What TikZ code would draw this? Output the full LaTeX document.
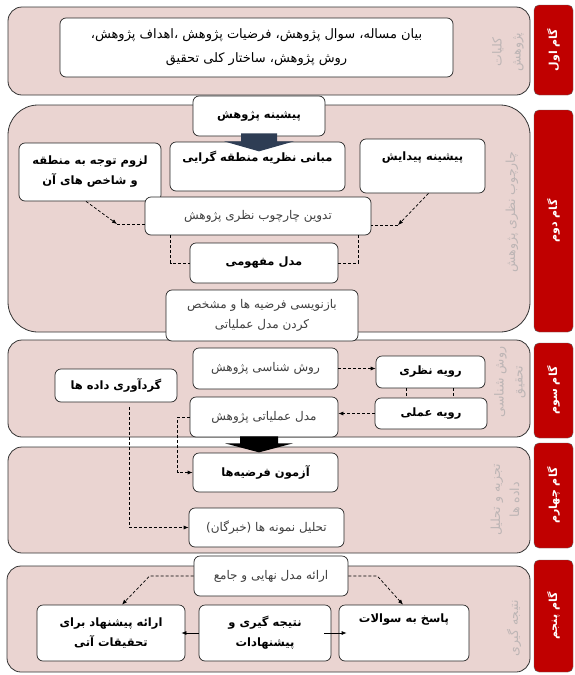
\documentclass[tikz,border=0pt]{standalone}
\usepackage{fontspec}
\newfontfamily\fa[Script=Arabic]{DejaVu Sans}
\TeXXeTstate=1
\usetikzlibrary{arrows.meta}

\definecolor{secpink}{HTML}{EAD4D1}
\definecolor{stepred}{HTML}{C00000}
\definecolor{arrownavy}{HTML}{2E3D54}
\definecolor{labelgray}{HTML}{BDB5B5}
\definecolor{textgray}{HTML}{404040}

\newcommand{\rtltext}[1]{\beginR #1\endR}

\tikzset{
  secbox/.style={draw=black!80, fill=secpink, rounded corners=14pt, line width=0.8pt},
  stepbox/.style={draw=black!60, fill=stepred, rounded corners=5pt, rotate=90,
    text=white, font=\fa\bfseries\fontsize{11}{13}\selectfont},
  seclabel/.style={rotate=90, align=center, text=labelgray,
    font=\fa\fontsize{12.5}{19}\selectfont},
  whitebox/.style={draw=black!85, fill=white, rounded corners=6pt, line width=0.7pt,
    inner sep=2pt, align=center, minimum width=#1},
  boldbox/.style={whitebox=#1, font=\fa\bfseries\fontsize{11.5}{20}\selectfont},
  plainbox/.style={whitebox=#1, text=textgray, font=\fa\fontsize{12}{20}\selectfont},
  toptext/.style={text depth=#1},
  dashline/.style={line width=0.7pt, dash pattern=on 3pt off 2pt},
  dasharrow/.style={dashline, -{Latex[length=5pt,width=4pt]}},
  solidarrow/.style={line width=0.7pt, -{Latex[length=5pt,width=4pt]}},
}

\begin{document}
\begin{tikzpicture}[x=1pt,y=-1pt]
  \useasboundingbox (0,0) rectangle (574,675);

  % the five steps
  \draw[secbox] (8,7) rectangle (530,95);
  \draw[secbox, rounded corners=30pt] (8,105) rectangle (530,332);
  \draw[secbox] (8,340) rectangle (530,437);
  \draw[secbox] (8,447) rectangle (530,553);
  \draw[secbox] (7,566) rectangle (530,672);

  \node[stepbox, minimum width=90, minimum height=39] (step1) at (553.5,50) {\rtltext{گام اول}};
  \node[stepbox, minimum width=222, minimum height=39] (step2) at (553.5,221) {\rtltext{گام دوم}};
  \node[stepbox, minimum width=95, minimum height=39] (step3) at (553.5,390.5) {\rtltext{گام سوم}};
  \node[stepbox, minimum width=105, minimum height=39] (step4) at (553.5,495.5) {\rtltext{گام چهارم}};
  \node[stepbox, minimum width=112, minimum height=39] (step5) at (553.5,616) {\rtltext{گام پنجم}};

  \node[seclabel] (lab1) at (508,52) {\rtltext{کلیات}\\\rtltext{پژوهش}};
  \node[seclabel] (lab2) at (512,212) {\rtltext{چارچوب نظری پژوهش}};
  \node[seclabel] (lab3) at (510,382) {\rtltext{روش شناسی}\\\rtltext{تحقیق}};
  \node[seclabel] (lab4) at (505,500) {\rtltext{تجزیه و تحلیل}\\\rtltext{داده ها}};
  \node[seclabel] (lab5) at (514,628) {\rtltext{نتیجه گیری}};

  % step 1
  \node[plainbox=393, minimum height=59, text=black, font=\fa\fontsize{13}{24}\selectfont]
    (kolliat) at (256.5,47.5)
    {\rtltext{بیان مساله، سوال پژوهش، فرضیات پژوهش ،اهداف پژوهش،}\\\rtltext{روش پژوهش، ساختار کلی تحقیق}};

  % step 2
  \node[boldbox=132, minimum height=40] (pishineh) at (259,116) {\rtltext{پیشینه پژوهش}};
  \node[boldbox=175, minimum height=49, toptext=20pt] (mabani) at (257.5,166.5) {\rtltext{مبانی نظریه منطقه گرایی}};
  \node[boldbox=142, minimum height=58] (lozum) at (90,172) {\rtltext{لزوم توجه به منطقه}\\\rtltext{و شاخص های آن}};
  \node[boldbox=125, minimum height=54, toptext=19pt] (paydayesh) at (422.5,166) {\rtltext{پیشینه پیدایش}};
  \node[plainbox=226, minimum height=38] (tadvin) at (258,216) {\rtltext{تدوین چارچوب نظری پژوهش}};
  \node[boldbox=148, minimum height=40] (mafhumi) at (264,263) {\rtltext{مدل مفهومی}};
  \node[plainbox=192, minimum height=51] (baznevisi) at (262,315.5) {\rtltext{بازنویسی فرضیه ها و مشخص}\\\rtltext{کردن مدل عملیاتی}};

  \fill[arrownavy] ([xshift=-18pt,yshift=3pt]pishineh.south) -- ++(36,0) -- ++(0,8) -- ++(17,0)
    -- ++(-35,10) -- ++(-35,-10) -- ++(17,0) -- cycle;

  \coordinate (lz) at (117,224);
  \coordinate (pd) at (398,225);
  \draw[dasharrow] ([xshift=-4pt]lozum.south) -- (lz);
  \draw[dashline] (lz) -- (lz -| tadvin.west);
  \draw[dasharrow] ([xshift=6pt]paydayesh.south) -- (pd);
  \draw[dashline] (pd) -- (pd -| tadvin.east);
  \draw[dashline] ([xshift=26pt]tadvin.south west) |- (mafhumi.west);
  \draw[dashline] ([xshift=-13pt]tadvin.south east) |- (mafhumi.east);

  % step 3
  \node[plainbox=145, minimum height=41] (ravesh) at (265.5,368.5) {\rtltext{روش شناسی پژوهش}};
  \node[boldbox=122, minimum height=33] (gerdavari) at (116,385.5) {\rtltext{گردآوری داده ها}};
  \node[boldbox=109, minimum height=32] (nazari) at (430.5,372) {\rtltext{رویه نظری}};
  \node[boldbox=112, minimum height=31] (amali) at (431,413.5) {\rtltext{رویه  عملی}};
  \node[plainbox=148, minimum height=40] (amaliati) at (264,417) {\rtltext{مدل عملیاتی پژوهش}};

  \draw[dasharrow] (ravesh.east) -- (ravesh.east -| nazari.west);
  \draw[dasharrow] (amali.west) -- (amali.west -| amaliati.east);
  \draw[dashline] ([xshift=-24pt]nazari.south) -- ([xshift=-24pt]nazari.south |- amali.north);
  \draw[dashline] ([xshift=23pt]nazari.south) -- ([xshift=23pt]nazari.south |- amali.north);

  % step 4
  \node[boldbox=145, minimum height=39] (azmun) at (265.5,472.5) {\rtltext{آزمون فرضیه‌ها}};
  \node[plainbox=155, minimum height=39] (tahlil) at (266.5,527.5) {\rtltext{تحلیل نمونه ها (خبرگان)}};

  \fill[black] ([xshift=-24pt,yshift=1pt]amaliati.south) -- ++(38,0) -- ++(0,7) -- ++(15,0)
    -- ++(-34,9) -- ++(-34,-9) -- ++(15,0) -- cycle;

  \draw[dasharrow] (amaliati.west) -- ++(-12,0) |- (azmun.west);
  \draw[dasharrow] ([xshift=13pt,yshift=-5pt]gerdavari.south) |- (tahlil.west);

  % step 5
  \node[plainbox=154, minimum height=40] (eraemodel) at (271,576) {\rtltext{ارائه مدل نهایی و جامع}};
  \node[boldbox=130, minimum height=56, toptext=30pt] (pasokh) at (404,633) {\rtltext{پاسخ به سوالات}};
  \node[boldbox=132, minimum height=56] (natije) at (265,633) {\rtltext{نتیجه گیری و}\\\rtltext{پیشنهادات}};
  \node[boldbox=148, minimum height=56] (pishnahad) at (111,633) {\rtltext{ارائه پیشنهاد برای}\\\rtltext{تحقیقات آتی}};

  \draw[dasharrow] (eraemodel.west) -- ++(-44,0) -- ([xshift=11pt]pishnahad.north);
  \draw[dasharrow] (eraemodel.east) -- ++(29,0) -- ([xshift=-1pt]pasokh.north);
  \draw[solidarrow] ([xshift=-7pt]natije.east) -- ([xshift=8pt]pasokh.west);
  \draw[solidarrow] (natije.west) -- ([xshift=-4pt]pishnahad.east);
\end{tikzpicture}
\end{document}
